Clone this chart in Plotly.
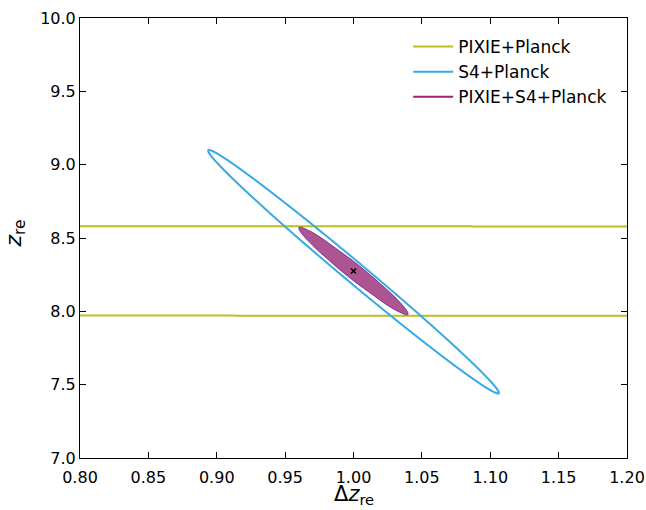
import numpy as np
import plotly.graph_objects as go

# Fisher-forecast contour parameters
labels = ["PIXIE+Planck", "S4+Planck", "PIXIE+S4+Planck"]
center_x = [1.0, 1.0, 1.0]
center_y = [8.275, 8.27, 8.275]
half_x = [3.0, 0.1063, 0.0400]      # half extent in Δz_re
half_y = [0.3052, 0.830, 0.300]     # half extent in z_re
rho = [-0.05, -0.9939, -0.975]      # correlation
colors = ["#bcbd22", "#36a9e6", "#a0216f"]

fid_x = [1.0]
fid_y = [8.275]

x_ticks = [0.80, 0.85, 0.90, 0.95, 1.00, 1.05, 1.10, 1.15, 1.20]
y_ticks = [7.0, 7.5, 8.0, 8.5, 9.0, 9.5, 10.0]
x_title = "Δ<i>z</i><sub>re</sub>"
y_title = "<i>z</i><sub>re</sub>"

t = np.linspace(0, 2 * np.pi, 6001)

def ellipse(i):
    ex = center_x[i] + half_x[i] * np.cos(t)
    ey = center_y[i] + half_y[i] * (rho[i] * np.cos(t) + np.sqrt(1 - rho[i] ** 2) * np.sin(t))
    return ex, ey

fig = go.Figure()

ex, ey = ellipse(0)
fig.add_trace(go.Scatter(x=ex, y=ey, mode="lines", name=labels[0],
                         line=dict(color=colors[0], width=2, simplify=False)))
ex, ey = ellipse(1)
fig.add_trace(go.Scatter(x=ex, y=ey, mode="lines", name=labels[1],
                         line=dict(color=colors[1], width=2, simplify=False)))
ex, ey = ellipse(2)
fig.add_trace(go.Scatter(x=ex, y=ey, mode="lines", name=labels[2], fill="toself",
                         fillcolor="#ad5592",
                         line=dict(color="#7d3590", width=1), showlegend=False))
fig.add_trace(go.Scatter(x=[None], y=[None], mode="lines", name=labels[2],
                         line=dict(color=colors[2], width=2)))

fig.add_trace(go.Scatter(x=fid_x, y=fid_y, mode="markers", showlegend=False,
                         marker=dict(symbol="x-thin", size=5, color="black",
                                     line=dict(color="black", width=1.5))))

font = "DejaVu Sans"
axis_common = dict(showline=True, linecolor="black", linewidth=1, mirror="ticks",
                   ticks="inside", ticklen=6, tickcolor="black", tickwidth=1,
                   showgrid=False, zeroline=False, automargin=False,
                   tickfont=dict(family=font, size=16, color="black"))

fig.update_layout(
    width=646, height=510,
    margin=dict(l=80, r=19, t=18, b=52),
    paper_bgcolor="white", plot_bgcolor="white",
    xaxis=dict(range=[0.80, 1.20], tickvals=x_ticks,
               ticktext=[f"{v:.2f}" for v in x_ticks],
               ticklabelstandoff=5, **axis_common),
    yaxis=dict(range=[7.0, 10.0], tickvals=y_ticks,
               ticktext=[f"{v:.1f}" for v in y_ticks],
               **axis_common),
    legend=dict(x=0.6, y=0.975, xanchor="left", yanchor="top",
                bgcolor="rgba(0,0,0,0)", borderwidth=0,
                font=dict(family=font, size=17, color="black"),
                tracegroupgap=4, itemwidth=40),
    showlegend=True,
    annotations=[
        dict(text=x_title, xref="paper", yref="paper", x=0.5, y=0,
             xanchor="center", yanchor="top", yshift=-22, showarrow=False,
             font=dict(family=font, size=21, color="black")),
        dict(text=y_title, xref="paper", yref="paper", x=0, y=0.5,
             xanchor="right", yanchor="middle", xshift=-49, yshift=4,
             textangle=-90, showarrow=False,
             font=dict(family=font, size=22, color="black")),
    ],
)

fig.write_html("out.html")
